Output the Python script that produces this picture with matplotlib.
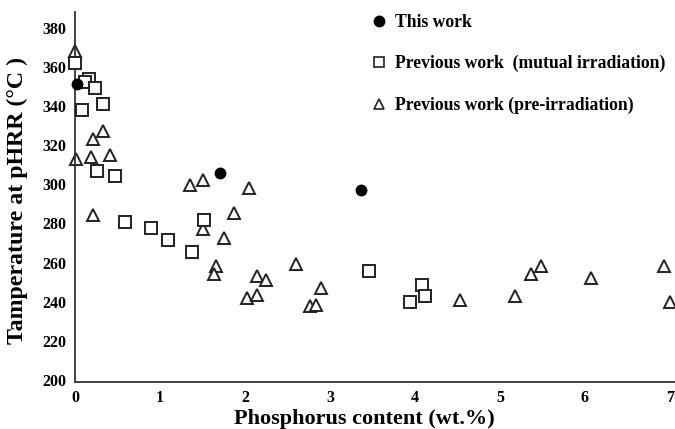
import matplotlib
matplotlib.use("Agg")
import matplotlib.pyplot as plt
from matplotlib.lines import Line2D

# This work
this_x = [0.02, 1.71, 3.36]
this_y = [351, 306, 297]

# Previous work (mutual irradiation)
mut_x = [0.0, 0.16, 0.12, 0.235, 0.086, 0.33, 0.255, 0.47, 0.59, 0.90, 1.10, 1.38, 1.52, 3.46, 4.08, 4.12, 3.94]
mut_y = [362, 354, 352.5, 349, 338, 341, 307, 304, 280.5, 277.5, 271.5, 265.5, 281.5, 255.5, 248.5, 243, 240]

# Previous work (pre-irradiation)
pre_x = [0.0, 0.01, 0.215, 0.33, 0.185, 0.41, 1.35, 1.51, 2.05, 0.215, 1.51, 1.87, 1.75, 1.66,
         1.64, 2.03, 2.14, 2.14, 2.25, 2.60, 2.89, 2.76, 2.84, 4.53, 5.18, 5.37, 5.48, 6.07, 6.93, 7.0]
pre_y = [368, 313, 323, 327, 314, 315, 299.5, 302, 298, 284.5, 277, 285.5, 272.5, 258,
         254, 242, 253, 243.5, 251, 259.5, 247, 238, 238.5, 241, 243, 254, 258, 252, 258, 240]

xticks = [0, 1, 2, 3, 4, 5, 6, 7]
yticks = [200, 220, 240, 260, 280, 300, 320, 340, 360, 380]

plt.rcParams['font.family'] = ['Liberation Serif', 'DejaVu Serif']
plt.rcParams['font.weight'] = 'bold'

fig = plt.figure(figsize=(6.75, 4.29), dpi=100)
ax = fig.add_axes([0.111, 0.1096, 0.889, 0.8624])

ax.plot(this_x, this_y, 'o', color='black', ms=7.5, clip_on=False, zorder=4)
ax.plot(mut_x, mut_y, 's', mfc='white', mec='#222222', mew=1.4, ms=8.5, clip_on=False, zorder=3)
ax.plot(pre_x, pre_y, '^', mfc='white', mec='#222222', mew=1.4, ms=8.5, clip_on=False, zorder=2)

ax.set_xlim(0, 7.06)
ax.set_ylim(199, 388)
ax.set_xticks(xticks)
ax.set_yticks(yticks)
ax.tick_params(length=0, labelsize=11.5, pad=6)
for lab in ax.get_xticklabels() + ax.get_yticklabels():
    lab.set_fontweight('bold')
for s in ['top', 'right']:
    ax.spines[s].set_visible(False)
for s in ['left', 'bottom']:
    ax.spines[s].set_linewidth(1.3)
    ax.spines[s].set_color('#333333')

ax.set_xlabel('Phosphorus content (wt.%)', fontsize=16, fontweight='bold')
ax.xaxis.set_label_coords(0.483, -0.072, transform=ax.transAxes)
ax.xaxis.label.set_va('top')
ax.set_ylabel('Tamperature at pHRR (\u00b0C )', fontsize=17.2, fontweight='bold')
ax.yaxis.set_label_coords(-0.078, 0.49)

handles = [
    Line2D([], [], ls='none', marker='o', color='black', ms=7.5),
    Line2D([], [], ls='none', marker='s', mfc='white', mec='#222222', mew=1.2, ms=7.5),
    Line2D([], [], ls='none', marker='^', mfc='white', mec='#222222', mew=1.2, ms=6.5),
]
labels = ['This work', 'Previous work  (mutual irradiation)', 'Previous work (pre-irradiation)']
fig.legend(handles, labels, loc='upper left', bbox_to_anchor=(0.525, 1.005), frameon=False,
           prop={'size': 12.7, 'weight': 'bold'}, labelspacing=1.38, handletextpad=0.4,
           handlelength=1.0)

fig.savefig('out.png', dpi=100)
